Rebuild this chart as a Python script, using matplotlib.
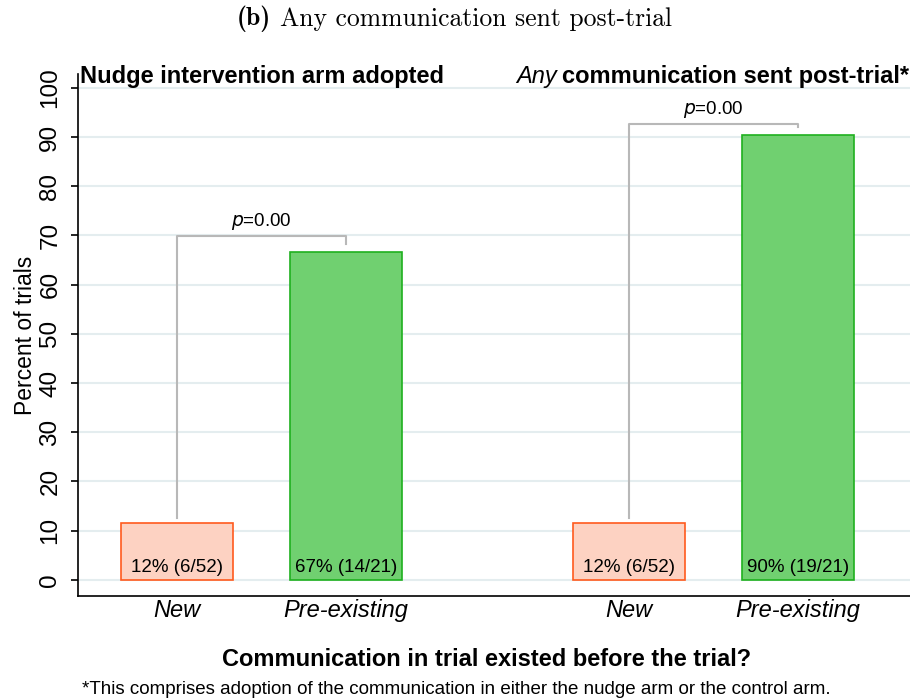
import matplotlib
matplotlib.use("Agg")
import matplotlib.pyplot as plt
import numpy as np

categories = ["New", "Pre-existing", "New", "Pre-existing"]
values = [11.54, 66.67, 11.54, 90.48]
bar_labels = ["12% (6/52)", "67% (14/21)", "12% (6/52)", "90% (19/21)"]
panel_titles = ["Nudge intervention arm adopted", "communication sent post-trial*"]
p_labels = ["0.00", "0.00"]
yticks = list(range(0, 101, 10))

plt.rcParams['font.family'] = ['Liberation Sans', 'DejaVu Sans']

fig = plt.figure(figsize=(9.1, 7.0), dpi=100)
ax = fig.add_axes([0.0857, 0.1486, 0.9143, 0.7457])

pos = np.array([0.0, 1.0, 2.675, 3.675])
width = 0.663
faces = ["#FDD2C2", "#70D070", "#FDD2C2", "#70D070"]
edges = ["#FF5A1E", "#1FB01F", "#FF5A1E", "#1FB01F"]

for y in yticks:
    ax.axhline(y, color="#E4EDEF", lw=1.5, zorder=0)

ax.bar(pos, values, width=width, color=faces, edgecolor=edges, linewidth=1.2, zorder=2)
for x, lab in zip(pos, bar_labels):
    ax.text(x, 2.4, lab, ha="center", va="center", fontsize=13.5, zorder=3)

# brackets
grey = "#B8B8B8"
tops = [69.9, 92.7]
for i, (a, b) in enumerate([(0, 1), (2, 3)]):
    top = tops[i]
    ax.plot([pos[a], pos[a], pos[b], pos[b]],
            [values[a] + 1.1, top, top, values[b] + 1.5],
            color=grey, lw=1.5, zorder=1)
    ax.text((pos[a] + pos[b]) / 2, top + 2.9, r"$\it{p}$=" + p_labels[i],
            ha="center", va="center", fontsize=13.5)

ax.set_xlim(-0.586, 4.338)
ax.set_ylim(-3.3, 102.8)
ax.set_xticks(pos)
ax.set_xticklabels(categories, fontsize=17, fontstyle="italic")
ax.set_yticks(yticks)
ax.set_yticklabels([str(t) for t in yticks], fontsize=17.5, rotation=90, va="center")
ax.tick_params(axis="x", length=0, pad=2)
ax.tick_params(axis="y", length=5, width=1.2, pad=7)
ax.spines["top"].set_visible(False)
ax.spines["right"].set_visible(False)
ax.spines["left"].set_linewidth(1.2)
ax.spines["bottom"].set_linewidth(1.2)
ax.set_ylabel("Percent of trials", fontsize=16.5, labelpad=2)

fig.text(80 / 910, 1 - 76 / 700, panel_titles[0], fontsize=17, fontweight="bold",
         ha="left", va="center")
t2 = fig.text(909 / 910, 1 - 76 / 700, panel_titles[1], fontsize=17, fontweight="bold",
              ha="right", va="center")
fig.canvas.draw()
bb = t2.get_window_extent()
fig.text((bb.x0 - 5) / fig.bbox.width, 1 - 76 / 700, "Any", fontsize=17,
         fontstyle="italic", ha="right", va="center")

fig.text(487 / 910, 1 - 659 / 700, "Communication in trial existed before the trial?",
         fontsize=17, fontweight="bold", ha="center", va="center")
fig.text(82 / 910, 1 - 690 / 700,
         "*This comprises adoption of the communication in either the nudge arm or the control arm.",
         fontsize=13.5, ha="left", va="center")

# title: bold (b) + roman text, centred as a whole
tb = fig.text(0, 1 - 19 / 700, "(b)", fontfamily="cmb10", fontsize=18.5, ha="left", va="center")
tr = fig.text(0, 1 - 19 / 700, "Any communication sent post-trial", fontfamily="cmr10",
              fontsize=18.5, ha="left", va="center")
fig.canvas.draw()
wb = tb.get_window_extent().width
wr = tr.get_window_extent().width
gap = 9
total = wb + gap + wr
x0 = 454 - total / 2
tb.set_x(x0 / fig.bbox.width)
tr.set_x((x0 + wb + gap) / fig.bbox.width)

fig.savefig("out.png", dpi=100)
